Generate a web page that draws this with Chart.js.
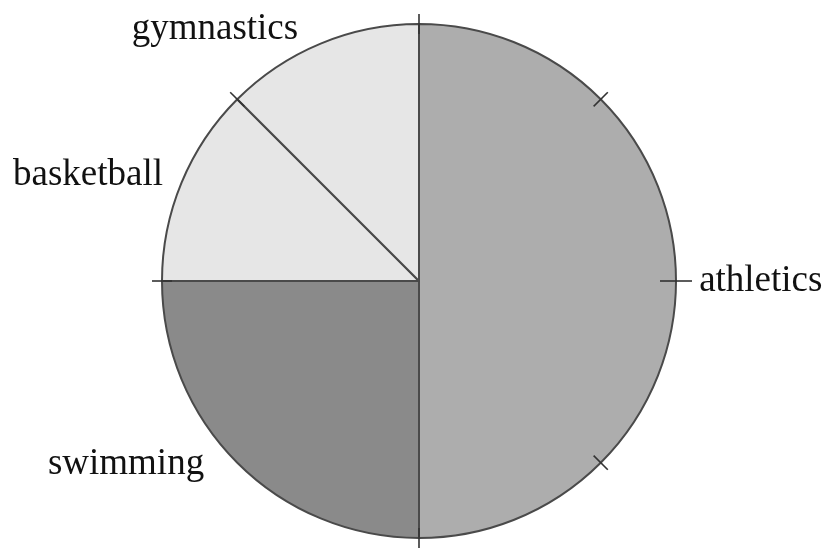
<!DOCTYPE html>
<html>
<head>
<meta charset="utf-8">
<script src="https://cdn.jsdelivr.net/npm/chart.js@4"></script>
<style>
  html, body { margin: 0; padding: 0; background: #fff; }
  #wrap { width: 828px; height: 556px; }
</style>
</head>
<body>
<div id="wrap"><canvas id="pie_canvas"></canvas></div>
<script>
const sports = ['athletics', 'swimming', 'basketball', 'gymnastics'];
const shares = [50, 25, 12.5, 12.5];
const sliceColors = ['#adadad', '#8a8a8a', '#e6e6e6', '#e6e6e6'];
// degrees clockwise from the top where the small marks cross the rim
const tickAngles = [0, 45, 90, 135, 180, 270, 315];

// label spots, as multiples of the radius from the centre
const labelSpots = {
    athletics: { dx: 1.09, dy: 0.0, align: 'left' },
    swimming: { dx: -1.14, dy: 0.715, align: 'center' },
    basketball: { dx: -1.288, dy: -0.41, align: 'center' },
    gymnastics: { dx: -0.794, dy: -0.978, align: 'center' },
};

const rimPlugin = {
    id: 'rim',
    afterDatasetsDraw(chart) {
        const ctx = chart.ctx;
        const arc = chart.getDatasetMeta(0).data[0];
        const { x, y, outerRadius } = arc.getProps(['x', 'y', 'outerRadius'], true);
        ctx.save();
        ctx.strokeStyle = '#333';
        ctx.lineWidth = 1.6;
        tickAngles.forEach(function (deg) {
            const a = deg * Math.PI / 180;
            const len = deg === 90 ? 16 : 10;
            const sx = Math.sin(a), sy = -Math.cos(a);
            ctx.beginPath();
            ctx.moveTo(x + sx * (outerRadius - len), y + sy * (outerRadius - len));
            ctx.lineTo(x + sx * (outerRadius + len), y + sy * (outerRadius + len));
            ctx.stroke();
        });
        ctx.fillStyle = '#111';
        ctx.font = '37px "Liberation Serif", "Times New Roman", serif';
        ctx.textBaseline = 'middle';
        sports.forEach(function (name) {
            const s = labelSpots[name];
            ctx.textAlign = s.align;
            ctx.fillText(name, x + s.dx * outerRadius, y + s.dy * outerRadius);
        });
        ctx.restore();
    }
};

const ctx_pie = document.getElementById('pie_canvas').getContext('2d');
const pie_chart = new Chart(ctx_pie, {
    type: 'pie',
    data: {
        labels: sports,
        datasets: [{
            data: shares,
            backgroundColor: sliceColors,
            borderColor: '#4a4a4a',
            borderWidth: 2,
            hoverOffset: 0,
        }]
    },
    options: {
        responsive: true,
        maintainAspectRatio: false,
        animation: false,
        layout: { padding: { top: 23, bottom: 17, left: 10, right: 0 } },
        plugins: {
            legend: { display: false },
            tooltip: { enabled: false },
        }
    },
    plugins: [rimPlugin]
});
</script>
</body>
</html>
